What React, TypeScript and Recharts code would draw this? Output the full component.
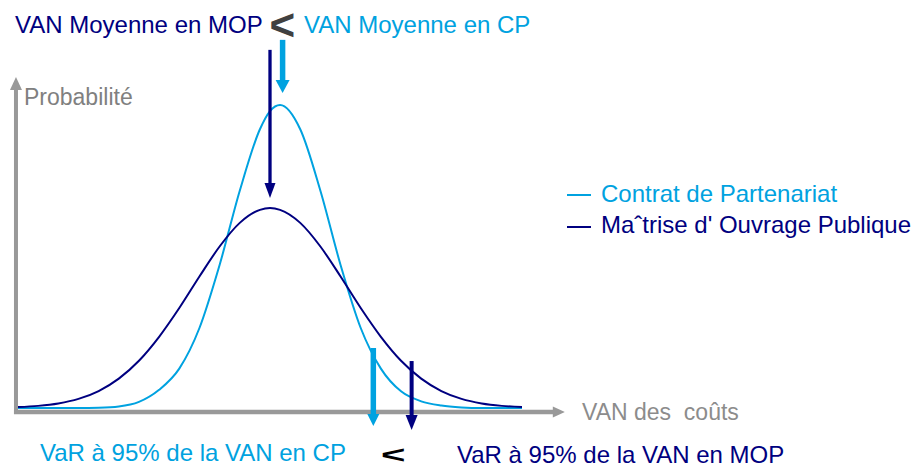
import { LineChart, Line, XAxis, YAxis, ReferenceLine, Legend } from 'recharts'

// x = position on the "VAN des coûts" axis (0..100), y = probability (CP peak = 100)
const xs = [0, 4, 8, 12, 16, 20, 24, 28, 32, 36, 40, 44, 48, 50, 52, 56, 60, 64, 68, 72, 76, 80, 84, 88, 92, 96, 100]
const cpValues = [0, 0, 0, 0, 0.1, 0.5, 2, 6, 13, 26.4, 47.2, 71.7, 92, 98, 100, 92, 71.7, 47.2, 26.4, 13, 5.5, 2.2, 0.8, 0.2, 0, 0, 0]
const mopValues = [0.3, 0.7, 1.5, 3, 5.6, 9.7, 15.6, 23.5, 33, 43.4, 53.3, 61.1, 65.4, 66, 65.4, 61.1, 53.3, 43.4, 33, 23.5, 15.6, 9.7, 5.6, 3, 1.5, 0.7, 0.3]

const seriesNames = {
  cp: 'Contrat de Partenariat',
  mop: 'Maˆtrise d\' Ouvrage Publique'
}

// annotation arrows, in data units
const meanArrows = [
  { key: 'cp', x: 52.5, from: 121.5, to: 104 },
  { key: 'mop', x: 50, from: 118.2, to: 69.3 }
]
const varArrows = [
  { key: 'cp', x: 70.5, from: 19.8, to: -5.9 },
  { key: 'mop', x: 78.1, from: 15.5, to: -7.3 }
]
const yAxisArrow = { x: -0.4, from: -2, to: 109.2 }
const xAxisArrow = { y: -1.3, from: -0.8, to: 108.5 }

const data = xs.map((x, i) => ({ x, cp: cpValues[i], mop: mopValues[i] }))

const CP = '#00a2e0'
const MOP = '#000080'
const GRAY = '#999999'
const FONT = '"Liberation Sans", Arial, sans-serif'

const colorOf = (key: string) => (key === 'cp' ? CP : MOP)

// ReferenceLine shape drawing a straight arrow ending at (x2, y2)
const arrowShape = (width: number, headW: number, headL: number) => (props: any) => {
  const { x1, y1, x2, y2, stroke } = props
  const dx = x2 - x1
  const dy = y2 - y1
  const len = Math.hypot(dx, dy) || 1
  const ux = dx / len
  const uy = dy / len
  const bx = x2 - ux * headL
  const by = y2 - uy * headL
  const px = -uy * headW / 2
  const py = ux * headW / 2
  return (
    <g>
      <line x1={x1} y1={y1} x2={bx + ux} y2={by + uy} stroke={stroke} strokeWidth={width} />
      <polygon points={`${x2},${y2} ${bx + px},${by + py} ${bx - px},${by - py}`} fill={stroke} />
    </g>
  )
}

const renderLegend = (props: any) => {
  const { payload = [] } = props
  return (
    <svg width={360} height={70} style={{ display: 'block' }}>
      {payload.map((entry: any, i: number) => (
        <g key={entry.value}>
          <line x1={7} x2={31} y1={20 + i * 32} y2={20 + i * 32} stroke={entry.color} strokeWidth={2} />
          <text x={41} y={27 + i * 31} fill={entry.color} fontSize={24} fontFamily={FONT}>
            {entry.value}
          </text>
        </g>
      ))}
    </svg>
  )
}

export default function App() {
  return (
    <div style={{ position: 'absolute', left: 0, top: 0, width: 921, height: 468, background: '#fff' }}>
      <LineChart
        width={921}
        height={468}
        data={data}
        margin={{ top: 29.25, right: 348.6, left: 7.92, bottom: 29.7 }}
      >
        <XAxis type="number" dataKey="x" domain={[-2, 110]} allowDataOverflow hide />
        <YAxis type="number" domain={[-10, 125]} allowDataOverflow hide />

        <ReferenceLine
          segment={[{ x: yAxisArrow.x, y: yAxisArrow.from }, { x: yAxisArrow.x, y: yAxisArrow.to }]}
          stroke={GRAY}
          ifOverflow="visible"
          shape={arrowShape(4, 12, 13)}
        />
        <ReferenceLine
          segment={[{ x: xAxisArrow.from, y: xAxisArrow.y }, { x: xAxisArrow.to, y: xAxisArrow.y }]}
          stroke={GRAY}
          ifOverflow="visible"
          shape={arrowShape(4.5, 11, 12)}
        />

        <Line
          type="monotone"
          dataKey="cp"
          name={seriesNames.cp}
          stroke={CP}
          strokeWidth={2}
          dot={false}
          isAnimationActive={false}
        />
        <Line
          type="monotone"
          dataKey="mop"
          name={seriesNames.mop}
          stroke={MOP}
          strokeWidth={2}
          dot={false}
          isAnimationActive={false}
        />

        {meanArrows.map((a) => (
          <ReferenceLine
            key={'mean-' + a.key}
            segment={[{ x: a.x, y: a.from }, { x: a.x, y: a.to }]}
            stroke={colorOf(a.key)}
            ifOverflow="visible"
            shape={a.key === 'cp' ? arrowShape(5.5, 14, 13) : arrowShape(3.3, 11, 15)}
          />
        ))}
        {varArrows.map((a) => (
          <ReferenceLine
            key={'var-' + a.key}
            segment={[{ x: a.x, y: a.from }, { x: a.x, y: a.to }]}
            stroke={colorOf(a.key)}
            ifOverflow="visible"
            shape={a.key === 'cp' ? arrowShape(5.5, 12, 12) : arrowShape(4, 12, 15)}
          />
        ))}

        <Legend
          layout="vertical"
          align="center"
          verticalAlign="middle"
          content={renderLegend}
          wrapperStyle={{ left: 560, top: 175, width: 361, height: 70 }}
        />
      </LineChart>

      <svg
        width={921}
        height={468}
        style={{ position: 'absolute', left: 0, top: 0, pointerEvents: 'none' }}
        fontFamily={FONT}
      >
        <text x={15} y={33} fontSize={24} fill={MOP}>VAN Moyenne en MOP</text>
        <text x={269.5} y={40} fontSize={44} fontWeight="bold" fill="#404040">&lt;</text>
        <text x={304} y={33} fontSize={24} fill={CP}>VAN Moyenne en CP</text>
        <text x={24} y={105} fontSize={23} fill="#808080">Probabilité</text>
        <text x={582} y={420} fontSize={23} fill="#8c8c8c" style={{ whiteSpace: 'pre' }}>VAN des  coûts</text>
        <text x={40} y={461} fontSize={24} fill={CP}>VaR à 95% de la VAN en CP</text>
        <text
          fontSize={24}
          fontWeight="bold"
          fill="#000"
          transform="translate(381 462.5) scale(1.75 1)"
        >
          &lt;
        </text>
        <text x={457} y={463} fontSize={24} fill={MOP}>VaR à 95% de la VAN en MOP</text>
      </svg>
    </div>
  )
}
